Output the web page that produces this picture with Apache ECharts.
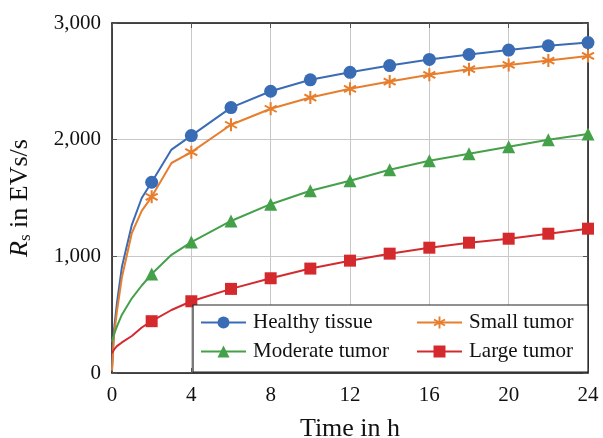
<!DOCTYPE html>
<html>
<head>
<meta charset="utf-8">
<script src="https://cdn.jsdelivr.net/npm/echarts@6/dist/echarts.min.js"></script>
<style>html,body{margin:0;padding:0;background:#fff}#c{width:603px;height:438px}</style>
</head>
<body>
<div id="c"></div>
<script>
var hours   = [0, 0.1, 0.25, 0.5, 1, 1.5, 2, 3, 4, 6, 8, 10, 12, 14, 16, 18, 20, 22, 24];
var healthy = [30, 370, 600, 910, 1270, 1500, 1635, 1915, 2035, 2275, 2415, 2513, 2577, 2635, 2688, 2730, 2768, 2805, 2832];
var small   = [20, 320, 530, 820, 1200, 1390, 1510, 1800, 1893, 2128, 2265, 2361, 2436, 2498, 2556, 2604, 2641, 2678, 2718];
var moderate= [268, 330, 400, 500, 640, 750, 848, 1013, 1122, 1303, 1447, 1562, 1648, 1742, 1819, 1879, 1939, 1999, 2048];
var large   = [170, 200, 230, 262, 317, 390, 444, 540, 615, 721, 812, 895, 963, 1023, 1074, 1117, 1151, 1194, 1237];
var markerHours = [2, 4, 6, 8, 10, 12, 14, 16, 18, 20, 22, 24];
var xTicks = [0, 4, 8, 12, 16, 20, 24];
var yTicks = [0, 1000, 2000, 3000];

var FONT = 'Liberation Serif';
function build(vals) {
  return hours.map(function (h, i) {
    var item = { value: [h, vals[i]] };
    if (markerHours.indexOf(h) < 0) item.symbol = 'none';
    return item;
  });
}
var asterisk = 'path://M8.5 0L11.5 0L11.5 20L8.5 20ZM17.91 3.7L19.41 6.3L2.09 16.3L0.59 13.7ZM19.41 13.7L17.91 16.3L0.59 6.3L2.09 3.7Z';
function series(name, vals, color, symbol, size) {
  return {
    name: name, type: 'line', data: build(vals), symbol: symbol, symbolSize: size,
    showSymbol: true, showAllSymbol: true, z: 2,
    lineStyle: { color: color, width: 2 }, itemStyle: { color: color },
    emphasis: { disabled: true }, animation: false
  };
}
function frame() { return { show: true, onZero: false, lineStyle: { color: '#111', width: 1.5 } }; }
function ticks() { return { show: true, inside: true, length: 5, lineStyle: { color: '#555' } }; }
var chart = echarts.init(document.getElementById('c'), null, { renderer: 'canvas' });
chart.setOption({
  animation: false,
  grid: { left: 112, right: 15, top: 23, bottom: 65, show: false, containLabel: false, outerBoundsMode: 'none' },
  xAxis: [{
    type: 'value', min: 0, max: 24, interval: 4,
    name: 'Time in h', nameLocation: 'middle', nameGap: 43,
    nameTextStyle: { fontFamily: FONT, fontSize: 26, color: '#111' },
    axisLine: frame(), axisTick: ticks(),
    axisLabel: { margin: 12, fontFamily: FONT, fontSize: 21, color: '#111', formatter: function (v) { return xTicks.indexOf(v) >= 0 ? String(v) : ''; } },
    splitLine: { show: true, lineStyle: { color: '#c8c8c8', width: 1 } }
  }, {
    type: 'value', min: 0, max: 24, interval: 4, position: 'top',
    axisLine: frame(), axisLabel: { show: false }, splitLine: { show: false }, axisTick: ticks()
  }],
  yAxis: [{
    type: 'value', min: 0, max: 3000, interval: 1000,
    name: '{i|R}{sub|s}{n| in EVs/s}', nameLocation: 'middle', nameGap: 78, nameRotate: 90,
    nameTextStyle: {
      fontFamily: FONT, fontSize: 26, color: '#111',
      rich: {
        i: { fontFamily: FONT, fontSize: 26, fontStyle: 'italic', color: '#111' },
        sub: { fontFamily: FONT, fontSize: 17, color: '#111', verticalAlign: 'bottom', padding: [10, 0, 0, 0] },
        n: { fontFamily: FONT, fontSize: 26, color: '#111' }
      }
    },
    axisLine: frame(), axisTick: ticks(),
    axisLabel: { margin: 11, fontFamily: FONT, fontSize: 21, color: '#111', formatter: function (v) { return yTicks.indexOf(v) >= 0 ? v.toLocaleString('en-US') : ''; } },
    splitLine: { show: true, lineStyle: { color: '#c8c8c8', width: 1 } }
  }, {
    type: 'value', min: 0, max: 3000, interval: 1000, position: 'right',
    axisLine: frame(), axisLabel: { show: false }, splitLine: { show: false }, axisTick: ticks()
  }],
  graphic: [{
    type: 'rect', z: 3, shape: { x: 193, y: 305, width: 395, height: 67 },
    style: { fill: '#fff', stroke: '#222', lineWidth: 1.2 }
  }],
  legend: [{
    orient: 'vertical', left: 200, top: 312, padding: 0, itemGap: 8, itemWidth: 45, itemHeight: 15, z: 5,
    data: ['Healthy tissue', 'Moderate tumor'],
    textStyle: { fontFamily: FONT, fontSize: 21, color: '#111', padding: [0, 0, 0, 2] }
  }, {
    orient: 'vertical', left: 416, top: 312, padding: 0, itemGap: 8, itemWidth: 45, itemHeight: 15, z: 5,
    data: ['Small tumor', 'Large tumor'],
    textStyle: { fontFamily: FONT, fontSize: 21, color: '#111', padding: [0, 0, 0, 2] }
  }],
  series: [
    series('Healthy tissue', healthy, '#3A6CB6', 'circle', 13),
    series('Small tumor', small, '#E67E2E', asterisk, 13),
    series('Moderate tumor', moderate, '#45A04A', 'triangle', 13),
    series('Large tumor', large, '#D42A2E', 'rect', 12)
  ]
});
</script>
</body>
</html>
